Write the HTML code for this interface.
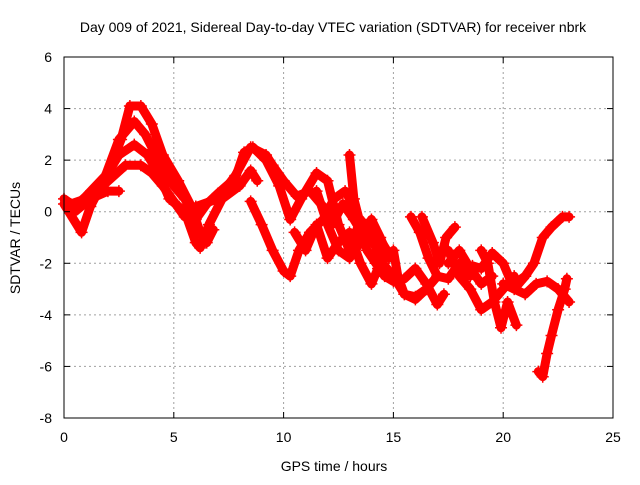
<!DOCTYPE html>
<html><head><meta charset="utf-8"><style>
body{margin:0;background:#fff}
svg text{font-family:"Liberation Sans",sans-serif;font-size:14px;fill:#000}
</style></head><body>
<svg width="640" height="480">
<g id="grid"></g>
<g id="marks"></g>
<rect x="64" y="57" width="549" height="361" fill="none" stroke="#000" stroke-width="1"/>
<g id="ticks"></g>
<text x="333" y="32" text-anchor="middle">Day 009 of 2021, Sidereal Day-to-day VTEC variation (SDTVAR) for receiver nbrk</text>
<text x="334" y="471" text-anchor="middle">GPS time / hours</text>
<text transform="translate(20,238) rotate(-90)" text-anchor="middle">SDTVAR / TECUs</text>
</svg>
<script>
const xTicks=[0,5,10,15,20,25];
const yTicks=[6,4,2,0,-2,-4,-6,-8];
const trackA=[[0,0.5],[0.5,0.2],[1,0.6],[2,1.5],[2.6,2.8],[3.0,4.1],[3.5,4.1],[4.0,3.4],[4.5,2.2],[5.2,1.2],[5.8,0.2],[6.2,-0.8],[6.5,-1.2],[6.8,-0.7]];
const trackB=[[0.3,0.3],[1,0.5],[1.8,1.2],[2.5,2.8],[3.2,3.5],[3.7,3.0],[4.3,2.0],[5,1.0],[5.5,0.5],[6.0,-0.3],[6.5,0.3],[7,0.7],[7.8,1.3],[8.2,2.3],[8.6,2.5],[9.2,2.0],[9.8,1.0],[10.3,-0.3],[10.8,0.5],[11.5,1.5],[12,1.2],[12.5,-0.5],[13,-1.5],[13.5,-0.3],[14,-1.0],[14.5,-2.0],[15,-2.5],[15.5,-3.2],[16,-3.4],[16.5,-3.0],[17,-2.5]];
const trackC=[[0,0.3],[0.8,-0.8],[1.2,0.2],[2,1.5],[2.5,2.2],[3.2,2.6],[3.8,2.2],[4.3,1.5],[4.8,0.5],[5.5,0.0],[6,-1.2],[6.2,-1.4],[6.6,-0.5],[7.2,0.5],[8,1.0],[8.5,1.6],[8.8,1.2]];
const trackD=[[0.5,0.0],[1.2,0.5],[2,0.8],[2.5,0.8]];
const trackD2=[[1.5,0.8],[2.8,1.8],[3.5,1.8],[4,1.5],[4.5,1.0],[5,0.4],[5.5,-0.2],[6,0.2],[7,0.5],[7.8,1.4],[8.5,2.5],[9.2,2.2],[9.5,1.8],[10,1.2],[10.6,0.6],[11.2,0.8],[11.8,0.2],[12.2,-0.5],[12.7,0.3],[13.2,-0.3],[13.7,-1.0],[14.2,-0.8],[14.7,-1.5]];
const trackE=[[8.5,0.4],[9,-0.5],[9.5,-1.5],[10,-2.3],[10.3,-2.5],[10.7,-1.5],[11.2,-0.8],[11.8,-0.3],[12.3,0.5],[12.8,0.8],[13.2,0.2]];
const trackF=[[13.0,2.2],[13.2,0.5],[13.5,-0.5],[13.8,-1.5],[14.2,-2.0],[14.6,-2.5],[15,-2.7],[15.5,-2.6],[16,-2.2],[16.5,-2.8],[17,-3.6],[17.3,-3.2]];
const trackG=[[15.8,-0.2],[16.2,-0.8],[16.6,-1.8],[17.0,-2.5],[17.5,-2.6],[18,-2.0],[18.5,-2.5]];
const trackH=[[16.3,-0.2],[16.8,-1.2],[17.1,-2.0],[17.4,-1.0],[17.8,-0.6]];
const trackI=[[18.6,-2.1],[19,-2.2],[19.5,-1.6],[20,-2.0],[20.5,-3.0],[21,-2.5]];
const trackJ=[[19,-1.5],[19.3,-2.0],[19.6,-3.5],[19.9,-4.5],[20.2,-3.5],[20.6,-4.4]];
const trackK=[[20.5,-2.8],[21,-2.5],[21.4,-2.0],[21.8,-1.0],[22.2,-0.6],[22.7,-0.2],[23,-0.2]];
const trackL=[[21.6,-6.2],[21.8,-6.4],[22,-5.5],[22.2,-4.8],[22.5,-3.8],[22.8,-3.0],[22.9,-2.6]];
const trackM=[[20,-2.8],[21,-3.2],[21.5,-2.8],[22,-2.7],[22.5,-3.0],[23,-3.5]];
const trackN=[[17.5,-1.5],[18,-2.5],[18.5,-3.0],[19,-3.8],[19.5,-3.5],[20,-3.0],[20.5,-2.5]];
const trackO=[[15,-1.5],[15.2,-2.5],[15.5,-3.2],[16,-3.3],[16.5,-3.0]];
const trackP=[[10.5,-0.8],[11,-1.5],[11.5,-0.5],[12,-1.8],[12.5,-1.2],[13,-0.8],[13.5,-2.0],[14,-2.8],[14.3,-2.2]];
const trackQ=[[11.5,0.8],[12,-0.5],[12.5,-1.5],[13,-1.8],[13.5,-1.2],[14,-0.3],[14.4,-1.0],[14.8,-1.8]];
const trackR=[[17.5,-2.0],[18,-1.5],[18.5,-2.2],[19,-2.8],[19.5,-2.5]];
const tracks=[trackA,trackB,trackC,trackD,trackD2,trackE,trackF,trackG,trackH,trackI,trackJ,trackK,trackL,trackM,trackN,trackO,trackP,trackQ,trackR];

const NS='http://www.w3.org/2000/svg';
const sx=h=>64+h*(549/25);
const sy=v=>57+(6-v)*(361/14);
const grid=document.getElementById('grid'),ticks=document.getElementById('ticks'),marks=document.getElementById('marks');
function mk(tag,attrs,parent){const e=document.createElementNS(NS,tag);for(const k in attrs)e.setAttribute(k,attrs[k]);parent.appendChild(e);return e;}
xTicks.forEach(t=>{
  const x=sx(t);
  if(t>0&&t<25){const g=mk('line',{x1:x,x2:x,y1:57,y2:418,stroke:'#a0a0a0','stroke-dasharray':'2,3'},grid);
  
  }
  mk('line',{x1:x,x2:x,y1:418,y2:412,stroke:'#000'},ticks);
  mk('line',{x1:x,x2:x,y1:57,y2:63,stroke:'#000'},ticks);
  const tx=mk('text',{x:x,y:442,'text-anchor':'middle'},ticks);tx.textContent=t;
  
  
});
yTicks.forEach(t=>{
  const y=sy(t);
  if(t<6&&t>-8){const g=mk('line',{x1:64,x2:613,y1:y,y2:y,stroke:'#a0a0a0','stroke-dasharray':'2,3'},grid);
  
  }
  mk('line',{x1:64,x2:70,y1:y,y2:y,stroke:'#000'},ticks);
  mk('line',{x1:613,x2:607,y1:y,y2:y,stroke:'#000'},ticks);
  const tx=mk('text',{x:52,y:y+5,'text-anchor':'end'},ticks);tx.textContent=t;
  
  
});
tracks.forEach((tr,i)=>{
  const pts=tr.map(p=>sx(p[0])+','+sy(p[1])).join(' ');
  const pl=mk('polyline',{points:pts,fill:'none',stroke:'#ff0000','stroke-width':9,'stroke-linejoin':'round','stroke-linecap':'round'},marks);
  
  
  tr.forEach(p=>{
    const x=sx(p[0]),y=sy(p[1]);
    const m=mk('path',{d:`M${x-6},${y}H${x+6}M${x},${y-6}V${y+6}`,stroke:'#ff0000','stroke-width':1.5},marks);
    
    
  });
});
</script>
</body></html>
